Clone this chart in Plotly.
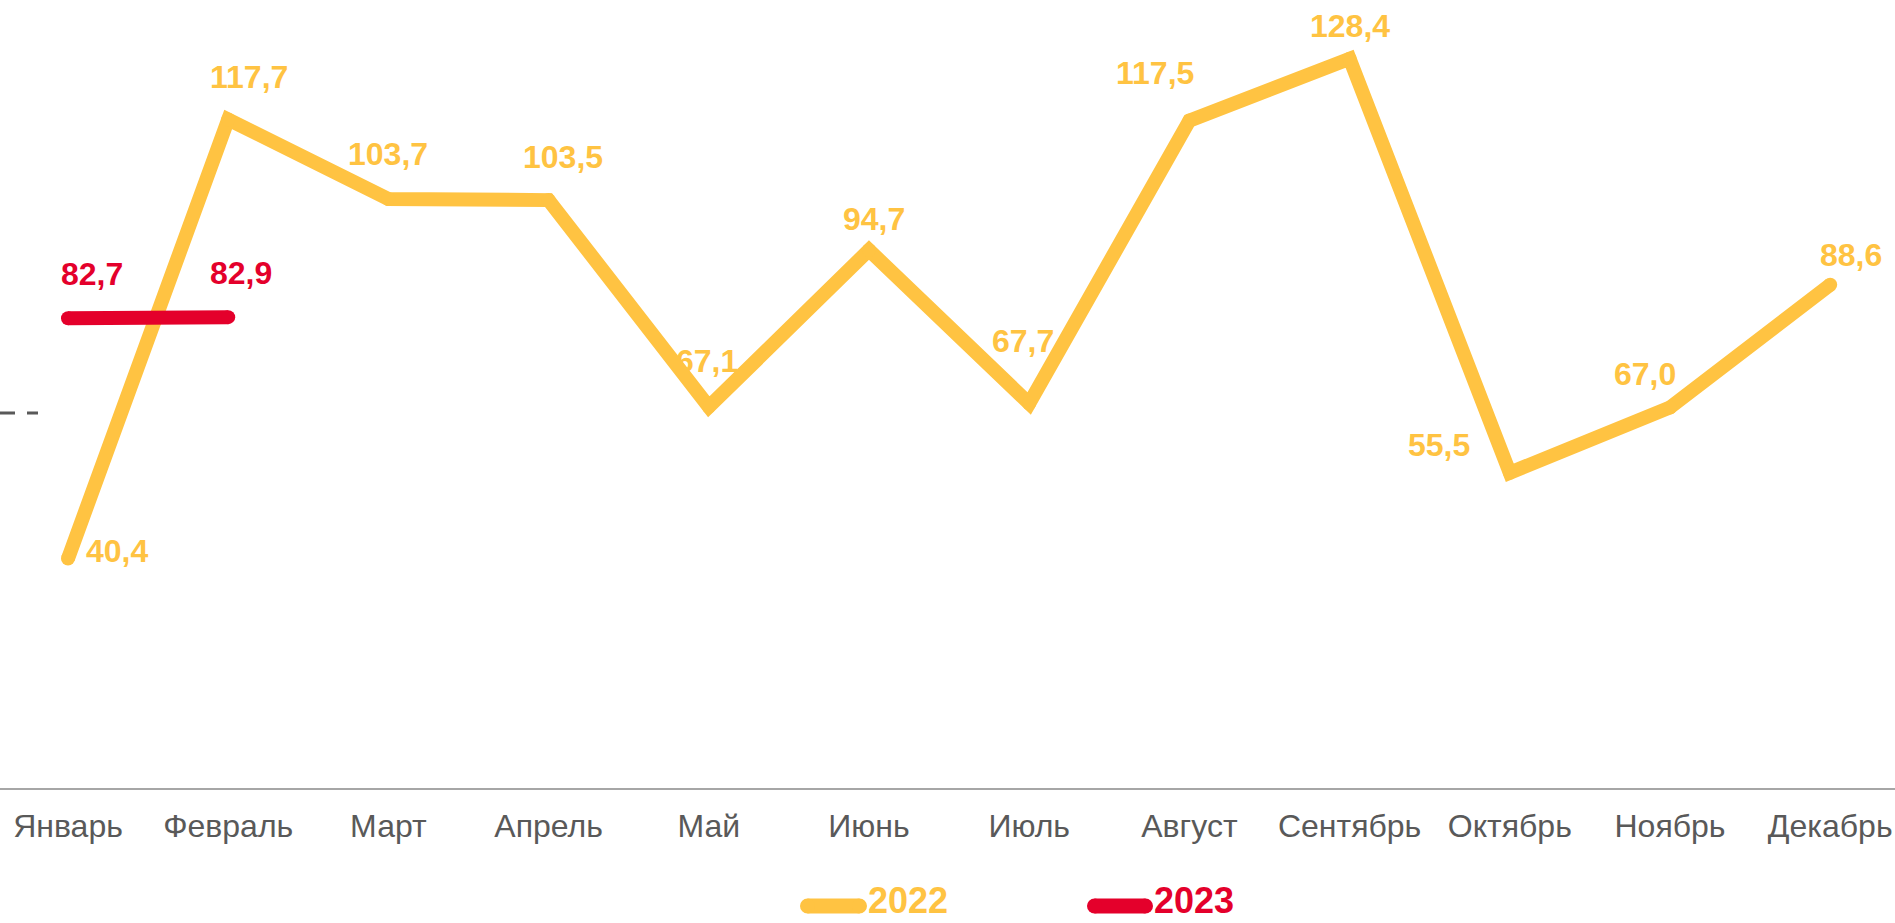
import plotly.graph_objects as go

# ---- data ----
months = ["Январь", "Февраль", "Март", "Апрель", "Май", "Июнь", "Июль",
          "Август", "Сентябрь", "Октябрь", "Ноябрь", "Декабрь"]
values_2022 = [40.4, 117.7, 103.7, 103.5, 67.1, 94.7, 67.7, 117.5, 128.4, 55.5, 67.0, 88.6]
months_2023 = ["Январь", "Февраль"]
values_2023 = [82.7, 82.9]
series_names = ["2022", "2023"]
ref_level = 66.0

# ---- style ----
W, H = 1895, 923
ML, MR, MT, MB = 0, 0, 20, 135
YELLOW = "#FFC342"
RED = "#E4002B"
GREY = "#595959"
FONT = "Liberation Sans, Arial, sans-serif"
LW = 14
px_per_cat = 160.2
first_px = 68
y_top = (H - MT - MB) / 5.68

# label offsets (pixels): (dx, dy up)
off_2022 = [(49, 8), (21, 42), (0, 45), (14, 43), (-2, 46), (5, 31), (-6, 62),
            (-34, 48), (0, 33), (-71, 28), (-25, 33), (21, 30)]
off_2023 = [(24, 44), (13, 44)]


def fmt(v):
    return f"{v:.1f}".replace(".", ",")


plot_h = H - MT - MB


def py2paper(py):
    return (H - MB - py) / plot_h


def px2paper(px):
    return (px - ML) / (W - ML - MR)


fig = go.Figure()
fig.add_trace(go.Scatter(
    x=months, y=values_2022, name=series_names[0], mode="lines+markers",
    line=dict(color=YELLOW, width=LW), marker=dict(color=YELLOW, size=LW),
    cliponaxis=False, hoverinfo="x+y", showlegend=False))
fig.add_trace(go.Scatter(
    x=months_2023, y=values_2023, name=series_names[1], mode="lines+markers",
    line=dict(color=RED, width=LW), marker=dict(color=RED, size=LW),
    cliponaxis=False, hoverinfo="x+y", showlegend=False))

annotations = []
for m, v, (dx, dy) in zip(months, values_2022, off_2022):
    annotations.append(dict(x=m, y=v, xref="x", yref="y", text=f"<b>{fmt(v)}</b>", showarrow=False,
                            xshift=dx, yshift=dy, xanchor="center", yanchor="middle",
                            font=dict(family=FONT, size=32, color=YELLOW)))
for m, v, (dx, dy) in zip(months_2023, values_2023, off_2023):
    annotations.append(dict(x=m, y=v, xref="x", yref="y", text=f"<b>{fmt(v)}</b>", showarrow=False,
                            xshift=dx, yshift=dy, xanchor="center", yanchor="middle",
                            font=dict(family=FONT, size=32, color=RED)))

# manual legend
legend_items = [(series_names[0], YELLOW, 800, 867), (series_names[1], RED, 1087, 1153)]
leg_y = 906
shapes = []
r = 7.5
for name, col, x0, x1 in legend_items:
    ya = py2paper(leg_y)
    shapes.append(dict(type="line", xref="paper", yref="paper", xsizemode="pixel", ysizemode="pixel",
                       xanchor=0, yanchor=ya, x0=x0 + r, x1=x1 - r, y0=0, y1=0,
                       line=dict(color=col, width=2 * r)))
    for cx in (x0 + r, x1 - r):
        shapes.append(dict(type="circle", xref="paper", yref="paper", xsizemode="pixel",
                           ysizemode="pixel", xanchor=0, yanchor=ya,
                           x0=cx - r, x1=cx + r, y0=-r, y1=r,
                           fillcolor=col, line=dict(width=0)))
    annotations.append(dict(x=px2paper(x1), y=py2paper(H - 1), xref="paper", yref="paper",
                            text=f"<b>{name}</b>", showarrow=False, xanchor="left", yanchor="bottom",
                            borderpad=0, font=dict(family=FONT, size=36, color=col)))

# dashed reference stub on the left edge
shapes.append(dict(type="line", xref="paper", yref="y", x0=0, x1=px2paper(38), y0=ref_level, y1=ref_level,
                   line=dict(color=GREY, width=3, dash="15px,12px")))

fig.update_layout(
    width=W, height=H,
    margin=dict(l=ML, r=MR, t=MT, b=MB),
    paper_bgcolor="white", plot_bgcolor="white",
    showlegend=False,
    annotations=annotations,
    shapes=shapes,
    xaxis=dict(type="category", categoryorder="array", categoryarray=months,
               range=[-first_px / px_per_cat, -first_px / px_per_cat + W / px_per_cat],
               showgrid=False, zeroline=False, showline=True, linecolor="#A6A6A6", linewidth=2,
               ticks="", tickfont=dict(family=FONT, size=32, color=GREY), ticklabelstandoff=9),
    yaxis=dict(range=[0, y_top], visible=False, showgrid=False, zeroline=False),
)

fig.write_html("out.html", config={"displayModeBar": False},
               post_script="document.body.style.margin='0';document.body.style.overflow='hidden';")
